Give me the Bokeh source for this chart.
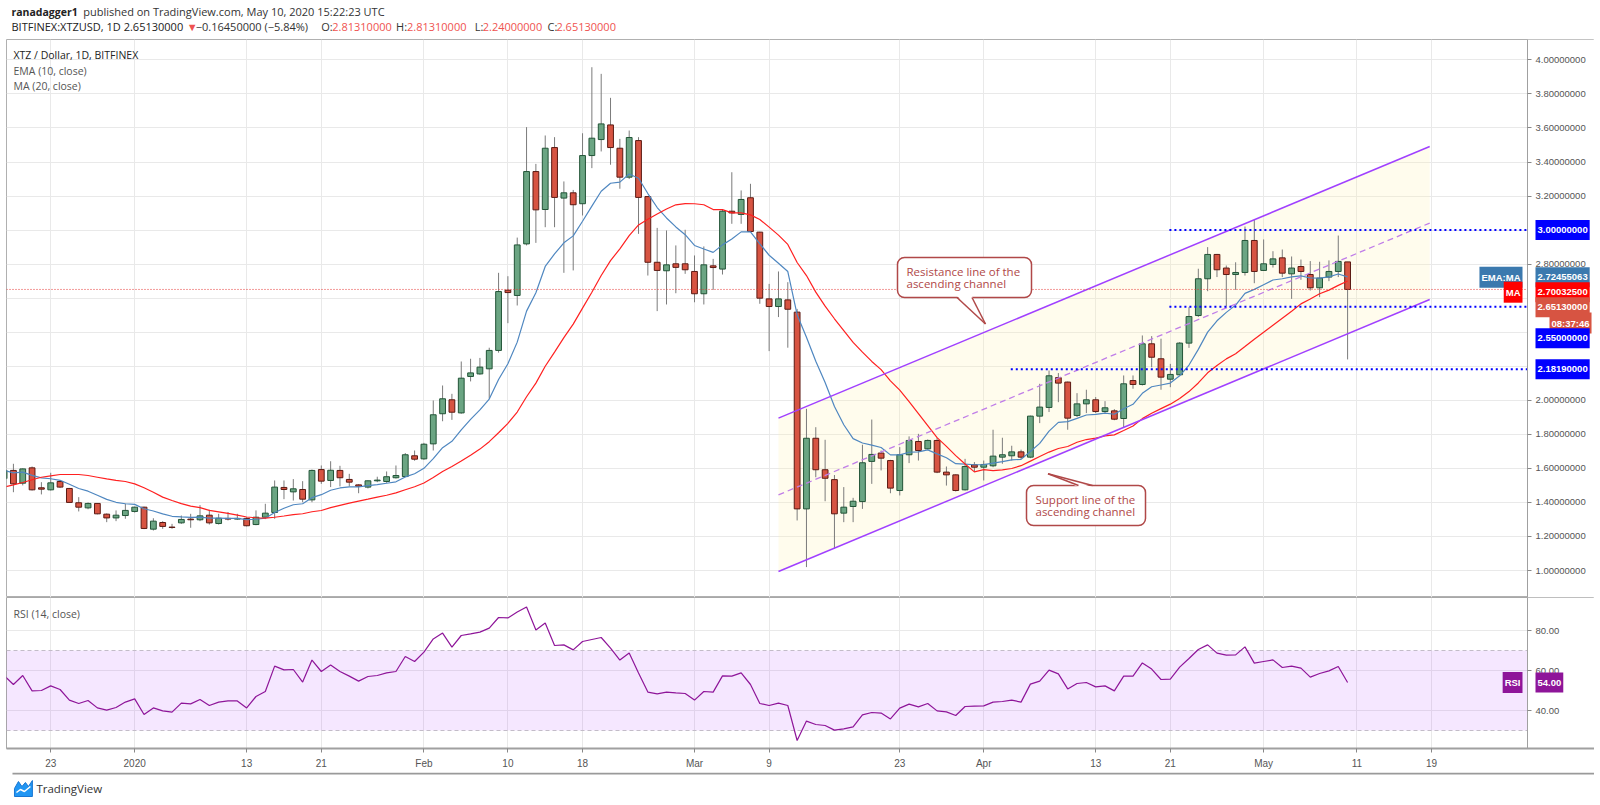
import pandas as pd
from bokeh.plotting import figure
from bokeh.layouts import column
from bokeh.models import (ColumnDataSource, Range1d, FixedTicker, PrintfTickFormatter,
                          BoxAnnotation, Label)
from bokeh.core.properties import value
from bokeh.embed import file_html
from bokeh.resources import INLINE

# ------------------------------------------------------------------ data
# daily candles BITFINEX:XTZUSD, 2019-12-18 .. 2020-05-10 (index 0..144)
dates = pd.date_range("2019-12-18", "2020-05-10", freq="D")

opens = [
    1.540, 1.588, 1.513, 1.603, 1.486, 1.474, 1.523, 1.482, 1.398, 1.368,
    1.394, 1.331, 1.309, 1.323, 1.347, 1.372, 1.243, 1.282, 1.255, 1.280,
    1.302, 1.298, 1.325, 1.276, 1.306, 1.302, 1.306, 1.270, 1.313, 1.341,
    1.488, 1.462, 1.476, 1.415, 1.593, 1.529, 1.588, 1.535, 1.503, 1.490,
    1.527, 1.523, 1.545, 1.552, 1.674, 1.656, 1.744, 1.921, 2.003, 1.926,
    2.140, 2.155, 2.185, 2.293, 2.647, 2.616, 2.919, 3.344, 3.121, 3.485,
    3.188, 3.219, 3.155, 3.438, 3.532, 3.618, 3.481, 3.311, 3.526, 3.197,
    2.811, 2.761, 2.802, 2.802, 2.757, 2.626, 2.790, 2.771, 3.111, 3.092,
    3.190, 2.988, 2.596, 2.551, 2.590, 2.518, 1.362, 1.777, 1.592, 1.534,
    1.337, 1.376, 1.405, 1.641, 1.690, 1.646, 1.470, 1.680, 1.758, 1.715,
    1.764, 1.578, 1.562, 1.474, 1.621, 1.607, 1.615, 1.666, 1.674, 1.697,
    1.666, 1.907, 1.958, 2.133, 2.107, 1.911, 1.979, 2.003, 1.934, 1.938,
    1.893, 2.116, 2.093, 2.332, 2.244, 2.124, 2.150, 2.336, 2.498, 2.714,
    2.857, 2.777, 2.739, 2.751, 2.939, 2.763, 2.798, 2.837, 2.743, 2.786,
    2.739, 2.661, 2.724, 2.757, 2.8131]
highs = [
    1.620, 1.627, 1.600, 1.611, 1.519, 1.574, 1.530, 1.485, 1.431, 1.400,
    1.396, 1.335, 1.353, 1.392, 1.375, 1.375, 1.307, 1.290, 1.274, 1.323,
    1.333, 1.384, 1.357, 1.333, 1.343, 1.333, 1.313, 1.353, 1.392, 1.529,
    1.529, 1.537, 1.525, 1.593, 1.617, 1.642, 1.615, 1.568, 1.507, 1.529,
    1.551, 1.582, 1.617, 1.690, 1.705, 1.750, 1.999, 2.087, 2.038, 2.228,
    2.244, 2.249, 2.309, 2.749, 2.729, 2.956, 3.605, 3.389, 3.556, 3.546,
    3.286, 3.236, 3.569, 3.957, 3.918, 3.777, 3.536, 3.585, 3.546, 3.200,
    3.013, 2.998, 2.910, 3.002, 2.851, 2.904, 2.831, 3.119, 3.340, 3.233,
    3.272, 2.990, 2.684, 2.757, 2.694, 2.537, 1.950, 1.842, 1.768, 1.561,
    1.490, 1.427, 1.739, 1.887, 1.705, 1.650, 1.725, 1.788, 1.803, 1.770,
    1.780, 1.611, 1.565, 1.656, 1.637, 1.646, 1.827, 1.780, 1.733, 1.710,
    1.910, 2.097, 2.175, 2.160, 2.110, 2.042, 2.062, 2.019, 1.995, 1.948,
    2.146, 2.146, 2.381, 2.377, 2.362, 2.214, 2.342, 2.547, 2.773, 2.900,
    2.860, 2.792, 2.811, 3.021, 3.060, 2.945, 2.876, 2.886, 2.845, 2.827,
    2.818, 2.814, 2.822, 2.968, 2.8131]
lows = [
    1.520, 1.460, 1.500, 1.470, 1.447, 1.470, 1.485, 1.398, 1.347, 1.360,
    1.330, 1.284, 1.290, 1.304, 1.340, 1.243, 1.235, 1.245, 1.245, 1.274,
    1.251, 1.290, 1.270, 1.270, 1.294, 1.298, 1.259, 1.266, 1.302, 1.304,
    1.419, 1.411, 1.401, 1.401, 1.509, 1.490, 1.494, 1.494, 1.454, 1.482,
    1.519, 1.515, 1.540, 1.549, 1.645, 1.650, 1.705, 1.877, 1.885, 1.921,
    2.111, 2.150, 2.009, 2.280, 2.453, 2.557, 2.910, 2.925, 3.017, 3.017,
    2.749, 2.763, 3.086, 3.364, 3.462, 3.384, 3.243, 3.300, 2.978, 2.733,
    2.524, 2.563, 2.629, 2.743, 2.576, 2.563, 2.649, 2.739, 3.037, 3.037,
    2.990, 2.567, 2.289, 2.489, 2.309, 1.294, 1.020, 1.548, 1.407, 1.127,
    1.284, 1.284, 1.362, 1.509, 1.588, 1.454, 1.441, 1.631, 1.646, 1.710,
    1.572, 1.499, 1.464, 1.470, 1.578, 1.529, 1.607, 1.627, 1.646, 1.656,
    1.660, 1.866, 1.931, 1.989, 1.827, 1.901, 1.925, 1.925, 1.925, 1.883,
    1.842, 2.068, 2.087, 2.194, 2.062, 2.077, 2.150, 2.308, 2.490, 2.641,
    2.724, 2.551, 2.649, 2.733, 2.688, 2.760, 2.780, 2.724, 2.596, 2.708,
    2.645, 2.606, 2.700, 2.724, 2.2400]
closes = [
    1.588, 1.509, 1.597, 1.474, 1.478, 1.515, 1.490, 1.400, 1.372, 1.394,
    1.333, 1.309, 1.325, 1.353, 1.372, 1.247, 1.290, 1.259, 1.253, 1.300,
    1.298, 1.321, 1.280, 1.307, 1.302, 1.306, 1.263, 1.313, 1.337, 1.490,
    1.476, 1.480, 1.419, 1.588, 1.525, 1.589, 1.545, 1.519, 1.495, 1.527,
    1.531, 1.551, 1.558, 1.680, 1.654, 1.742, 1.915, 2.009, 1.930, 2.130,
    2.161, 2.195, 2.293, 2.639, 2.633, 2.913, 3.344, 3.119, 3.481, 3.192,
    3.219, 3.149, 3.438, 3.540, 3.624, 3.485, 3.311, 3.544, 3.192, 2.811,
    2.763, 2.796, 2.781, 2.767, 2.626, 2.796, 2.780, 3.111, 3.101, 3.180,
    2.992, 2.600, 2.551, 2.596, 2.535, 1.362, 1.777, 1.592, 1.542, 1.333,
    1.372, 1.407, 1.633, 1.682, 1.660, 1.484, 1.680, 1.764, 1.705, 1.764,
    1.578, 1.562, 1.470, 1.611, 1.607, 1.623, 1.672, 1.680, 1.697, 1.666,
    1.907, 1.960, 2.144, 2.101, 1.895, 1.979, 2.003, 1.934, 1.956, 1.889,
    2.097, 2.093, 2.332, 2.253, 2.136, 2.152, 2.336, 2.492, 2.714, 2.857,
    2.767, 2.739, 2.751, 2.939, 2.757, 2.802, 2.831, 2.747, 2.777, 2.757,
    2.661, 2.718, 2.757, 2.816, 2.6513]

# MA(20) warm-up values (history before the first candle)
ma20_head = [1.490, 1.503, 1.517, 1.533, 1.548, 1.556, 1.564, 1.564, 1.564, 1.558,
             1.548, 1.538, 1.529, 1.523, 1.509, 1.486, 1.460, 1.431, 1.411]

rsi14 = [
    57.5, 53.0, 57.5, 49.8, 50.0, 52.3, 50.5, 45.2, 43.5, 45.0,
    41.3, 40.2, 41.5, 44.2, 45.8, 38.0, 41.3, 39.8, 39.2, 43.7,
    43.3, 45.5, 42.5, 44.2, 44.8, 44.8, 41.3, 47.0, 49.5, 62.2,
    60.3, 60.5, 54.2, 65.2, 59.5, 62.8, 59.5, 57.2, 54.7, 57.0,
    57.5, 58.8, 59.5, 67.0, 64.5, 69.2, 75.8, 78.7, 71.7, 77.5,
    78.3, 79.2, 81.2, 86.5, 86.3, 89.2, 91.8, 80.3, 83.7, 72.5,
    72.8, 70.3, 74.5, 75.5, 76.5, 71.2, 65.2, 68.7, 58.7, 49.2,
    48.3, 49.2, 48.8, 48.5, 45.2, 49.5, 49.2, 57.3, 57.2, 58.8,
    53.0, 43.5, 42.5, 43.7, 42.5, 25.0, 34.7, 33.0, 32.5, 30.2,
    30.8, 31.8, 37.8, 39.0, 38.7, 35.8, 41.2, 43.2, 41.8, 43.5,
    39.8, 39.3, 37.5, 42.0, 42.2, 42.3, 44.2, 44.5, 45.2, 44.2,
    53.2, 54.7, 60.2, 58.3, 50.8, 53.5, 54.0, 51.8, 52.3, 49.8,
    57.2, 57.2, 63.8, 60.7, 55.5, 55.7, 61.7, 66.0, 70.5, 72.8,
    68.7, 67.7, 67.8, 71.8, 63.7, 64.5, 65.3, 61.5, 62.2, 61.2,
    56.7, 58.5, 59.8, 62.0, 54.0]

# time-axis ticks (candle index) and their labels
tick_idx = [5, 14, 26, 34, 45, 54, 62, 74, 82, 96, 105, 117, 125, 135, 145, 153]
tick_labels = ["23", "2020", "13", "21", "Feb", "10", "18", "Mar", "9", "23",
               "Apr", "13", "21", "May", "11", "19"]
price_grid = [1.0, 1.2, 1.4, 1.6, 1.8, 2.0, 2.2, 2.4, 2.6, 2.8, 3.0, 3.2, 3.4, 3.6, 3.8, 4.0]
price_labels = [1.0, 1.2, 1.4, 1.6, 1.8, 2.0, 2.8, 3.2, 3.4, 3.6, 3.8, 4.0]
rsi_ticks = [40, 60, 80]
rsi_bands = [70, 30]

# drawings
hline_prices = [3.0, 2.55, 2.1819]
hline_start = [124.9, 124.9, 107.9]
channel_i = [83.0, 152.8]
channel_res = [1.895, 3.491]
channel_sup = [0.994, 2.592]
last_close = 2.6513
ema_last_text = "2.72455063"
ma_last_text = "2.70032500"
close_text = "2.65130000"
countdown_text = "08:37:46"
rsi_last_text = "54.00"
level_texts = ["3.00000000", "2.55000000", "2.18190000"]

# ------------------------------------------------------------------ helpers (layout)
DAY_PX, X_REF, I_REF = 9.33, 694.0, 74
def px2i(x):
    return I_REF + (x - X_REF) / DAY_PX
def py2p(y):
    return 1 + (570.0 - y) / 170.2

W = 1594
FONT = "Open Sans"
AX_FONT = "Liberation Sans"
GREEN, GREEN_EDGE = "#6ba583", "#225437"
RED, RED_EDGE = "#d75442", "#5b1a13"
WICK = "#7b7b7b"
GRID = "#e9e9e9"
EMA_C, MA_C = "#4f87c0", "#ff2020"
CHAN = "#a040ff"
CALL = "#b04848"
RSI_C = "#8e1599"
AXIS_X = px2i(1527)

# indicators
cs = pd.Series(closes)
ema10 = cs.ewm(span=10, adjust=False).mean().tolist()
ma20 = cs.rolling(20).mean().tolist()
ma20[:len(ma20_head)] = ma20_head

idx = list(range(len(closes)))
inc = [c >= o for o, c in zip(opens, closes)]
src = ColumnDataSource(dict(
    i=idx, h=highs, l=lows,
    top=[max(o, c) for o, c in zip(opens, closes)],
    bot=[min(o, c) for o, c in zip(opens, closes)],
    fill=[GREEN if u else RED for u in inc],
    edge=[GREEN_EDGE if u else RED_EDGE for u in inc],
))

xr = Range1d(px2i(6), px2i(W))

# ------------------------------------------------------------------ header
hdr = figure(width=W, height=39, x_range=Range1d(0, W), y_range=Range1d(39, 0),
             toolbar_location=None, output_backend="svg", min_border=0,
             x_axis_location=None, y_axis_location=None, outline_line_color=None, title=None)
hdr.grid.visible = False
runs = [
    (5, 11, "ranadagger1", "#222", "bold", "10.5px"),
    (77, 11, "published on TradingView.com, May 10, 2020 15:22:23 UTC", "#333", "normal", "11px"),
    (5, 26, "BITFINEX:XTZUSD, 1D  2.65130000", "#222", "normal", "11px"),
    (181, 26, "\u25bc", "#ef5350", "normal", "11px"),
    (190, 26, "\u22120.16450000 (\u22125.84%)", "#333", "normal", "11px"),
    (316, 26, "O:", "#333", "normal", "11px"), (327, 26, "2.81310000", "#ef5350", "normal", "11px"),
    (391, 26, "H:", "#333", "normal", "11px"), (402, 26, "2.81310000", "#ef5350", "normal", "11px"),
    (470, 26, "L:", "#333", "normal", "11px"), (478, 26, "2.24000000", "#ef5350", "normal", "11px"),
    (543, 26, "C:", "#333", "normal", "11px"), (552, 26, "2.65130000", "#ef5350", "normal", "11px"),
]
for x, y, t, col, st, fs in runs:
    hdr.text(x=[x], y=[y], text=[t], text_font=value(FONT), text_font_size=fs,
             text_color=col, text_font_style=st, text_baseline="middle", text_align="left")

# ------------------------------------------------------------------ main price pane
p = figure(frame_width=W - 6, frame_height=558, x_range=xr,
           y_range=Range1d(py2p(597), py2p(39)),
           x_axis_location=None, y_axis_location="right", toolbar_location=None,
           output_backend="svg", min_border_left=6, min_border_right=0,
           min_border_top=0, min_border_bottom=0, title=None,
           outline_line_color="#b0b0b0", background_fill_color="white")
p.xgrid.ticker = FixedTicker(ticks=tick_idx)
p.ygrid.ticker = FixedTicker(ticks=price_grid)
p.xgrid.grid_line_color = GRID
p.ygrid.grid_line_color = GRID
# white price-scale area right of the axis line
p.add_layout(BoxAnnotation(left=AXIS_X, fill_color="white", fill_alpha=1.0,
                           line_color=None, level="underlay"))
ya = p.yaxis[0]
ya.fixed_location = AXIS_X
ya.ticker = FixedTicker(ticks=price_labels)
ya.formatter = PrintfTickFormatter(format="%.8f")
ya.major_label_text_font = AX_FONT
ya.major_label_text_font_size = "9.5px"
ya.major_label_text_color = "#555555"
ya.major_tick_in = 0
ya.major_tick_out = 4
ya.minor_tick_in = 0
ya.minor_tick_out = 0
ya.major_label_standoff = 4
ya.axis_line_color = "#a0a0a0"
ya.major_tick_line_color = "#888888"

# channel background
p.patch(x=[channel_i[0], channel_i[1], channel_i[1], channel_i[0]],
        y=[channel_sup[0], channel_sup[1], channel_res[1], channel_res[0]],
        fill_color="#fff5b8", fill_alpha=0.25, line_color=None)

# candles
p.segment(x0="i", y0="l", x1="i", y1="h", source=src, line_color=WICK, line_width=1)
p.vbar(x="i", width=0.62, top="top", bottom="bot", fill_color="fill",
       line_color="edge", line_width=1, source=src)

# moving averages
p.line(idx, ema10, line_color=EMA_C, line_width=1.2)
p.line(idx, ma20, line_color=MA_C, line_width=1.2)

# channel lines
mid = [(a + b) / 2 for a, b in zip(channel_res, channel_sup)]
p.line(channel_i, channel_res, line_color=CHAN, line_width=1.5)
p.line(channel_i, channel_sup, line_color=CHAN, line_width=1.5)
p.line(channel_i, mid, line_color="#c07ee8", line_width=1.3, line_dash="6 4")

# horizontal levels and last-price line
p.segment(x0=hline_start, y0=hline_prices, x1=[AXIS_X] * len(hline_prices), y1=hline_prices,
          line_color="#0000ff", line_width=2, line_dash="2 3")
p.segment(x0=[px2i(6)], y0=[last_close], x1=[AXIS_X], y1=[last_close],
          line_color="#e53935", line_dash="1 2", line_width=1)

# callouts
def callout(L, R, T, B, lines, tx, ty, base1, base2, basey, tip, inward):
    p.quad(left=[px2i(L)], right=[px2i(R)], top=[py2p(T)], bottom=[py2p(B)],
           fill_color="white", line_color=CALL, line_width=1.5, border_radius=7)
    by_in = py2p(basey + inward)
    p.patch(x=[px2i(base1), px2i(tip[0]), px2i(base2)],
            y=[by_in, py2p(tip[1]), by_in], fill_color="white", line_color=None)
    p.multi_line(xs=[[px2i(base1), px2i(tip[0])], [px2i(base2), px2i(tip[0])]],
                 ys=[[py2p(basey), py2p(tip[1])], [py2p(basey), py2p(tip[1])]],
                 line_color=CALL, line_width=1.5)
    for k, t in enumerate(lines):
        p.text(x=[px2i(tx)], y=[py2p(ty[k])], text=[t], text_font=value(FONT),
               text_font_size="11.5px", text_color=CALL, text_baseline="middle",
               text_align="left")

callout(897, 1031, 257, 297, ["Resistance line of the", "ascending channel"],
        906, [270.5, 282.5], 956.5, 971.5, 297, (985, 323.5), -1.5)
callout(1026, 1145, 485, 525, ["Support line of the", "ascending channel"],
        1035, [499, 511], 1078, 1092, 485, (1047.5, 473.3), 1.5)

# pane legend
for y, t, col in [(54, "XTZ / Dollar, 1D, BITFINEX", "#222"),
                  (70, "EMA (10, close)", "#555"),
                  (85, "MA (20, close)", "#555")]:
    p.add_layout(Label(x=px2i(13), y=py2p(y), text=t, text_font=FONT, text_font_size="10.5px",
                       text_color=col, text_baseline="middle", text_align="left"))

# price-scale tags
def tag(fig, xpx, yval, text, bg, align="left", pad=(2, 7)):
    fig.add_layout(Label(x=px2i(xpx), y=yval, text=text, text_font=AX_FONT,
                         text_font_size="9.5px", text_font_style="bold", text_color="white",
                         text_align=align, text_baseline="middle",
                         background_fill_color=bg, background_fill_alpha=1.0, padding=pad))

tag(p, 1535, py2p(229.6), level_texts[0], "#0000ff")
tag(p, 1522, py2p(276.7), "EMA:MA", "#3b79ae", align="right", pad=(2, 5))
tag(p, 1535, py2p(276.7), ema_last_text, "#3b79ae")
tag(p, 1522, py2p(291.7), "MA", "#ff0000", align="right", pad=(2, 5))
tag(p, 1535, py2p(291.7), ma_last_text, "#ff0000")
tag(p, 1535, py2p(306.7), close_text, RED)
tag(p, 1549, py2p(322.5), countdown_text, RED, pad=(2, 5))
tag(p, 1535, py2p(337.7), level_texts[1], "#0000ff")
tag(p, 1535, py2p(368.8), level_texts[2], "#0000ff")

# ------------------------------------------------------------------ RSI pane
r = figure(frame_width=W - 6, frame_height=151, x_range=xr, y_range=Range1d(21.0, 96.5),
           y_axis_location="right", x_axis_location="below", toolbar_location=None,
           output_backend="svg", min_border_left=6, min_border_right=0,
           min_border_top=0, min_border_bottom=24, title=None,
           outline_line_color="#a8a8a8", background_fill_color="white")
r.xgrid.ticker = FixedTicker(ticks=tick_idx)
r.ygrid.ticker = FixedTicker(ticks=rsi_ticks)
r.xgrid.grid_line_color = GRID
r.ygrid.grid_line_color = GRID
r.add_layout(BoxAnnotation(bottom=rsi_bands[1], top=rsi_bands[0], right=AXIS_X,
                           fill_color="#9915ff", fill_alpha=0.1,
                           line_color=None, level="underlay"))
r.add_layout(BoxAnnotation(left=AXIS_X, fill_color="white", fill_alpha=1.0,
                           line_color=None, level="underlay"))
r.segment(x0=[px2i(6)] * 2, y0=rsi_bands, x1=[AXIS_X] * 2, y1=rsi_bands,
          line_color="#c3bcc8", line_dash="4 3", line_width=1)
r.line(idx, rsi14, line_color=RSI_C, line_width=1.2)

ry = r.yaxis[0]
ry.fixed_location = AXIS_X
ry.ticker = FixedTicker(ticks=rsi_ticks)
ry.formatter = PrintfTickFormatter(format="%.2f")
xa = r.xaxis[0]
for ax in (ry, xa):
    ax.major_label_text_font = AX_FONT
    ax.major_label_text_font_size = "9.5px"
    ax.major_label_text_color = "#555555"
    ax.major_tick_in = 0
    ax.major_tick_out = 4
    ax.minor_tick_in = 0
    ax.minor_tick_out = 0
    ax.axis_line_color = "#a0a0a0"
    ax.major_tick_line_color = "#888888"
ry.major_label_standoff = 4
xa.ticker = FixedTicker(ticks=tick_idx)
xa.major_label_overrides = {t: lab for t, lab in zip(tick_idx, tick_labels)}
xa.major_label_text_font_size = "10px"
xa.major_label_standoff = 5
xa.axis_line_width = 2

r.add_layout(Label(x=px2i(13), y=80 - (613.3 - 630) / 2.0, text="RSI (14, close)",
                   text_font=FONT, text_font_size="10.5px", text_color="#555",
                   text_baseline="middle", text_align="left"))
tag(r, 1522, 54.0, "RSI", RSI_C, align="right", pad=(2, 5))
tag(r, 1535, 54.0, rsi_last_text, RSI_C)

# ------------------------------------------------------------------ footer
ftr = figure(width=W, height=28, x_range=Range1d(0, W), y_range=Range1d(800, 772),
             toolbar_location=None, output_backend="svg", min_border=0,
             x_axis_location=None, y_axis_location=None, outline_line_color=None, title=None)
ftr.grid.visible = False
# bottom border of the time scale
ftr.line(x=[6, W], y=[773, 773], line_color="#9a9a9a", line_width=2)
ftr.patch(x=[8, 8, 12, 15.5, 19, 22, 26, 26], y=[796, 788, 781, 786, 782, 786, 780, 796],
          fill_color="#2196f3", line_color="#1976d2", line_width=1)
ftr.line(x=[10, 14, 18, 24], y=[792, 789, 791, 786], line_color="white", line_width=1.5)
ftr.text(x=[30], y=[788], text=["TradingView"], text_font=value(FONT), text_font_size="11.5px",
         text_color="#333", text_baseline="middle", text_align="left")

layout = column(hdr, p, r, ftr, spacing=0)
open("out.html", "w").write(file_html(layout, INLINE))
